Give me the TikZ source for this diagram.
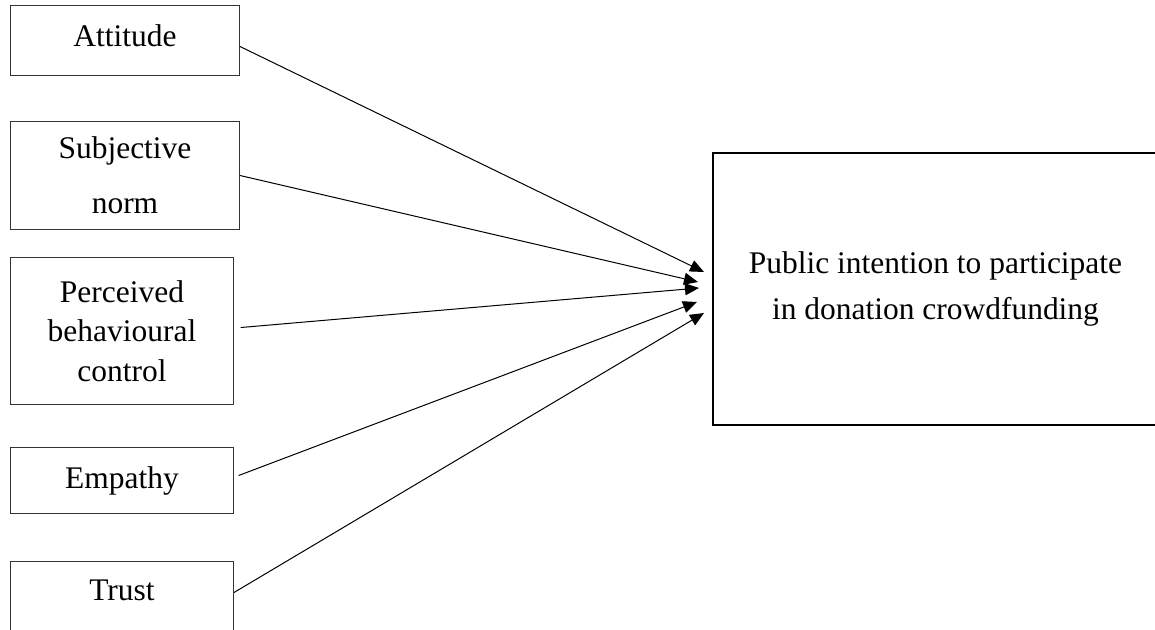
\documentclass[tikz,border=0pt]{standalone}
\usepackage{fontspec}
\setmainfont{Liberation Serif}
\usetikzlibrary{arrows.meta}
\tikzset{
    factor/.style={draw=black!80, line width=0.75pt, align=center, inner sep=0pt,
        anchor=north west, font=\fontsize{23.6}{29.6}\selectfont},
    outcome/.style={draw, line width=1.5pt, align=center, inner sep=0pt,
        anchor=north west, font=\fontsize{23.6}{33.8}\selectfont},
    link/.style={line width=0.75pt, -{Triangle[length=10.5pt,width=9pt]}}
}

\begin{document}
\begin{tikzpicture}[x=0.75pt,y=0.75pt,yscale=-1,xscale=1]
    \useasboundingbox (0,0) rectangle (1155,630);
    \clip (0,0) rectangle (1155,630);

    % Factor boxes
    \node [factor, minimum width=171.75pt, minimum height=52.5pt, text depth=8pt] (att) at (10,5) {Attitude};
    \node [factor, minimum width=171.75pt, minimum height=81pt, font=\fontsize{23.6}{41}\selectfont] (sn) at (10,121) {Subjective\\norm};
    \node [factor, minimum width=167.25pt, minimum height=110.25pt] (pbc) at (10,257) {Perceived\\behavioural\\control};
    \node [factor, minimum width=167.25pt, minimum height=49.5pt] (emp) at (10,447) {Empathy};
    \node [factor, minimum width=167.25pt, minimum height=58.5pt, text height=16pt, text depth=16pt] (tru) at (10,561) {Trust};

    % Outcome box
    \node [outcome, minimum width=333.75pt, minimum height=204pt] (pi) at (712,152) {Public intention to participate\\in donation crowdfunding};

    % Arrow ends
    \coordinate (tA) at (704,272);
    \coordinate (tB) at (698,282);
    \coordinate (tC) at (699,288);
    \coordinate (tD) at (697,302);
    \coordinate (tE) at (704,313);

    % Arrows
    \draw [link] ([yshift=4.5pt]att.east) -- (tA);
    \draw [link] (sn.east) -- (tB);
    \draw [link] ([xshift=5pt,yshift=-2.6pt]pbc.east) -- (tC);
    \draw [link] ([xshift=3.5pt,yshift=-3.75pt]emp.east) -- (tD);
    \draw [link] ([yshift=-6pt]tru.east) -- (tE);
\end{tikzpicture}
\end{document}
